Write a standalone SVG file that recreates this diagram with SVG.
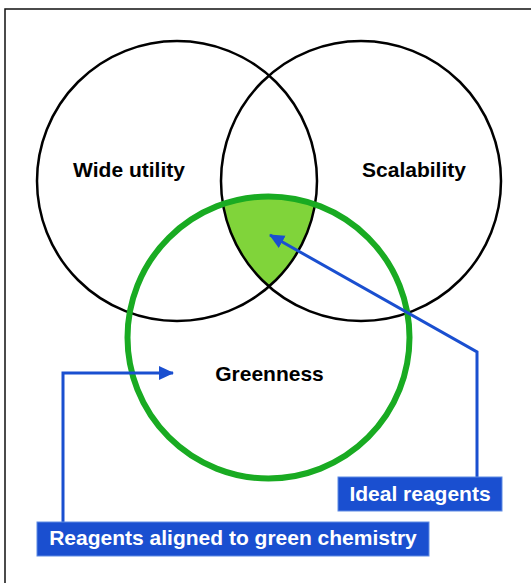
<svg xmlns="http://www.w3.org/2000/svg" width="531" height="583" viewBox="0 0 531 583">
<style>
.ring{fill:none;stroke:#000;stroke-width:2.5}
.lbl{font-family:"Liberation Sans",Arial,sans-serif;font-weight:bold;font-size:21px;fill:#000;text-anchor:middle}
.tag{font-family:"Liberation Sans",Arial,sans-serif;font-weight:bold;font-size:21px;fill:#fff;text-anchor:middle}
.box{fill:#1a4fd0;stroke:#5f8be3;stroke-width:1}
.conn{fill:none;stroke:#1a4fd0;stroke-width:3}
</style>
<defs>
<clipPath id="cL"><circle cx="177" cy="181" r="140"/></clipPath>
<clipPath id="cR"><circle cx="361" cy="181" r="140"/></clipPath>
<marker id="ah" markerUnits="userSpaceOnUse" markerWidth="16" markerHeight="16" viewBox="0 0 16 16" refX="14" refY="8" orient="auto">
<path d="M0,1 L15,8 L0,15 Z" fill="#1a4fd0"/>
</marker>
</defs>
<rect x="5" y="9" width="700" height="700" fill="#fff" stroke="#111" stroke-width="1.5"/>
<g id="overlap">
<g clip-path="url(#cL)"><g clip-path="url(#cR)"><circle cx="268.5" cy="337.5" r="141" fill="#80d43a"/></g></g>
</g>
<g id="wide-utility">
<circle class="ring" cx="177" cy="181" r="140"/>
<text class="lbl" x="129" y="177">Wide utility</text>
</g>
<g id="scalability">
<circle class="ring" cx="361" cy="181" r="140"/>
<text class="lbl" x="414" y="177">Scalability</text>
</g>
<g id="greenness">
<circle cx="268.5" cy="337.5" r="141" fill="none" stroke="#19ab22" stroke-width="6"/>
<text class="lbl" x="269.5" y="381">Greenness</text>
</g>
<g id="connectors">
<path class="conn" d="M477,478 L477,352 L270,235" marker-end="url(#ah)"/>
<path class="conn" d="M63,523 L63,373 L173,373" marker-end="url(#ah)"/>
</g>
<g id="ideal-reagents">
<rect class="box" x="338" y="477" width="164" height="34"/>
<text class="tag" x="420" y="501">Ideal reagents</text>
</g>
<g id="green-reagents">
<rect class="box" x="37" y="522" width="392" height="34"/>
<text class="tag" x="233" y="545">Reagents aligned to green chemistry</text>
</g>
</svg>
